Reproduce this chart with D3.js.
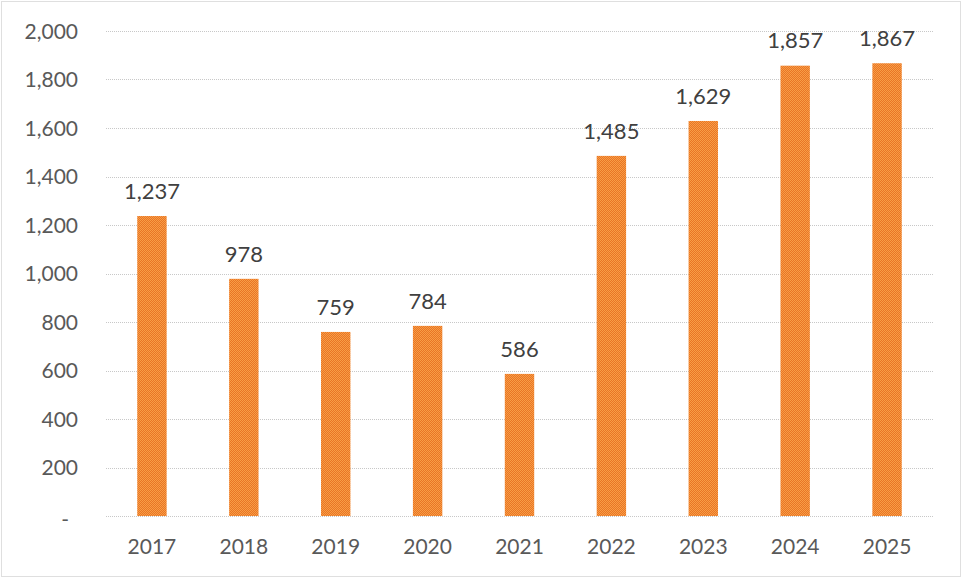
<!DOCTYPE html>
<html><head><meta charset="utf-8">
<script src="https://cdn.jsdelivr.net/npm/d3@7"></script>
<style>body{margin:0;background:#fff}svg{display:block}</style>
</head><body>
<script>
const categories = ["2017","2018","2019","2020","2021","2022","2023","2024","2025"];
const values = [1237, 978, 759, 784, 586, 1485, 1629, 1857, 1867];
const yTicks = [0,200,400,600,800,1000,1200,1400,1600,1800,2000];

const W = 963, H = 579;
const m = {left:106, right:30, top:31, bottom:63};
const svg = d3.select("body").append("svg").attr("width",W).attr("height",H);

const defs = svg.append("defs");
const pat = defs.append("pattern").attr("id","dither").attr("patternUnits","userSpaceOnUse")
  .attr("width",2).attr("height",2);
pat.append("rect").attr("width",2).attr("height",2).attr("fill","#E97426");
pat.append("rect").attr("width",1).attr("height",1).attr("fill","#F79E45");
pat.append("rect").attr("x",1).attr("y",1).attr("width",1).attr("height",1).attr("fill","#F79E45");

svg.append("rect").attr("x",1.5).attr("y",1.5).attr("width",W-4).attr("height",H-4)
  .attr("fill","none").attr("stroke","#bfbfbf").attr("stroke-dasharray","1,1");

const x = d3.scaleBand().domain(categories).range([m.left, W-m.right]).paddingInner(0.68).paddingOuter(0.34);
const y = d3.scaleLinear().domain([0,2000]).range([H-m.bottom, m.top]);

const font = "Lato, 'Open Sans', sans-serif";
const g = svg.append("g");
g.selectAll("line.grid").data(yTicks).join("line").attr("class","grid")
  .attr("x1",m.left).attr("x2",W-m.right)
  .attr("y1",d=>Math.round(y(d))+0.5).attr("y2",d=>Math.round(y(d))+0.5)
  .attr("stroke","#c8c8c8").attr("stroke-width",1).attr("stroke-dasharray","1,1");

const yAxis = d3.axisLeft(y).tickValues(yTicks).tickSize(0).tickPadding(0)
  .tickFormat(d => d===0 ? "-" : d3.format(",")(d));
const ya = svg.append("g").attr("transform",`translate(78,0)`).call(yAxis);
ya.select(".domain").remove();
ya.selectAll("text").attr("fill","#595959").style("font-family",font).style("font-size","21px")
  .attr("dy","0.35em");
ya.selectAll(".tick").filter(d=>d===0).select("text").attr("x",-9).attr("dy","0.5em");

const xAxis = d3.axisBottom(x).tickSize(0).tickPadding(0);
const xa = svg.append("g").attr("transform",`translate(0,${H-m.bottom})`).call(xAxis);
xa.select(".domain").remove();
xa.selectAll("text").attr("fill","#595959").style("font-family",font).style("font-size","21px")
  .attr("y",31).attr("dy","0.35em");

svg.selectAll("rect.bar").data(values).join("rect").attr("class","bar")
  .attr("x",(d,i)=>x(categories[i])).attr("width",x.bandwidth())
  .attr("y",d=>y(d)).attr("height",d=>y(0)-y(d)).attr("fill","url(#dither)");

svg.selectAll("text.lbl").data(values).join("text").attr("class","lbl")
  .attr("x",(d,i)=>x(categories[i])+x.bandwidth()/2).attr("y",d=>y(d)-25)
  .attr("dy","0.35em").attr("text-anchor","middle")
  .attr("fill","#404040").style("font-family",font).style("font-size","22px")
  .text(d=>d3.format(",")(d));
</script>
</body></html>
